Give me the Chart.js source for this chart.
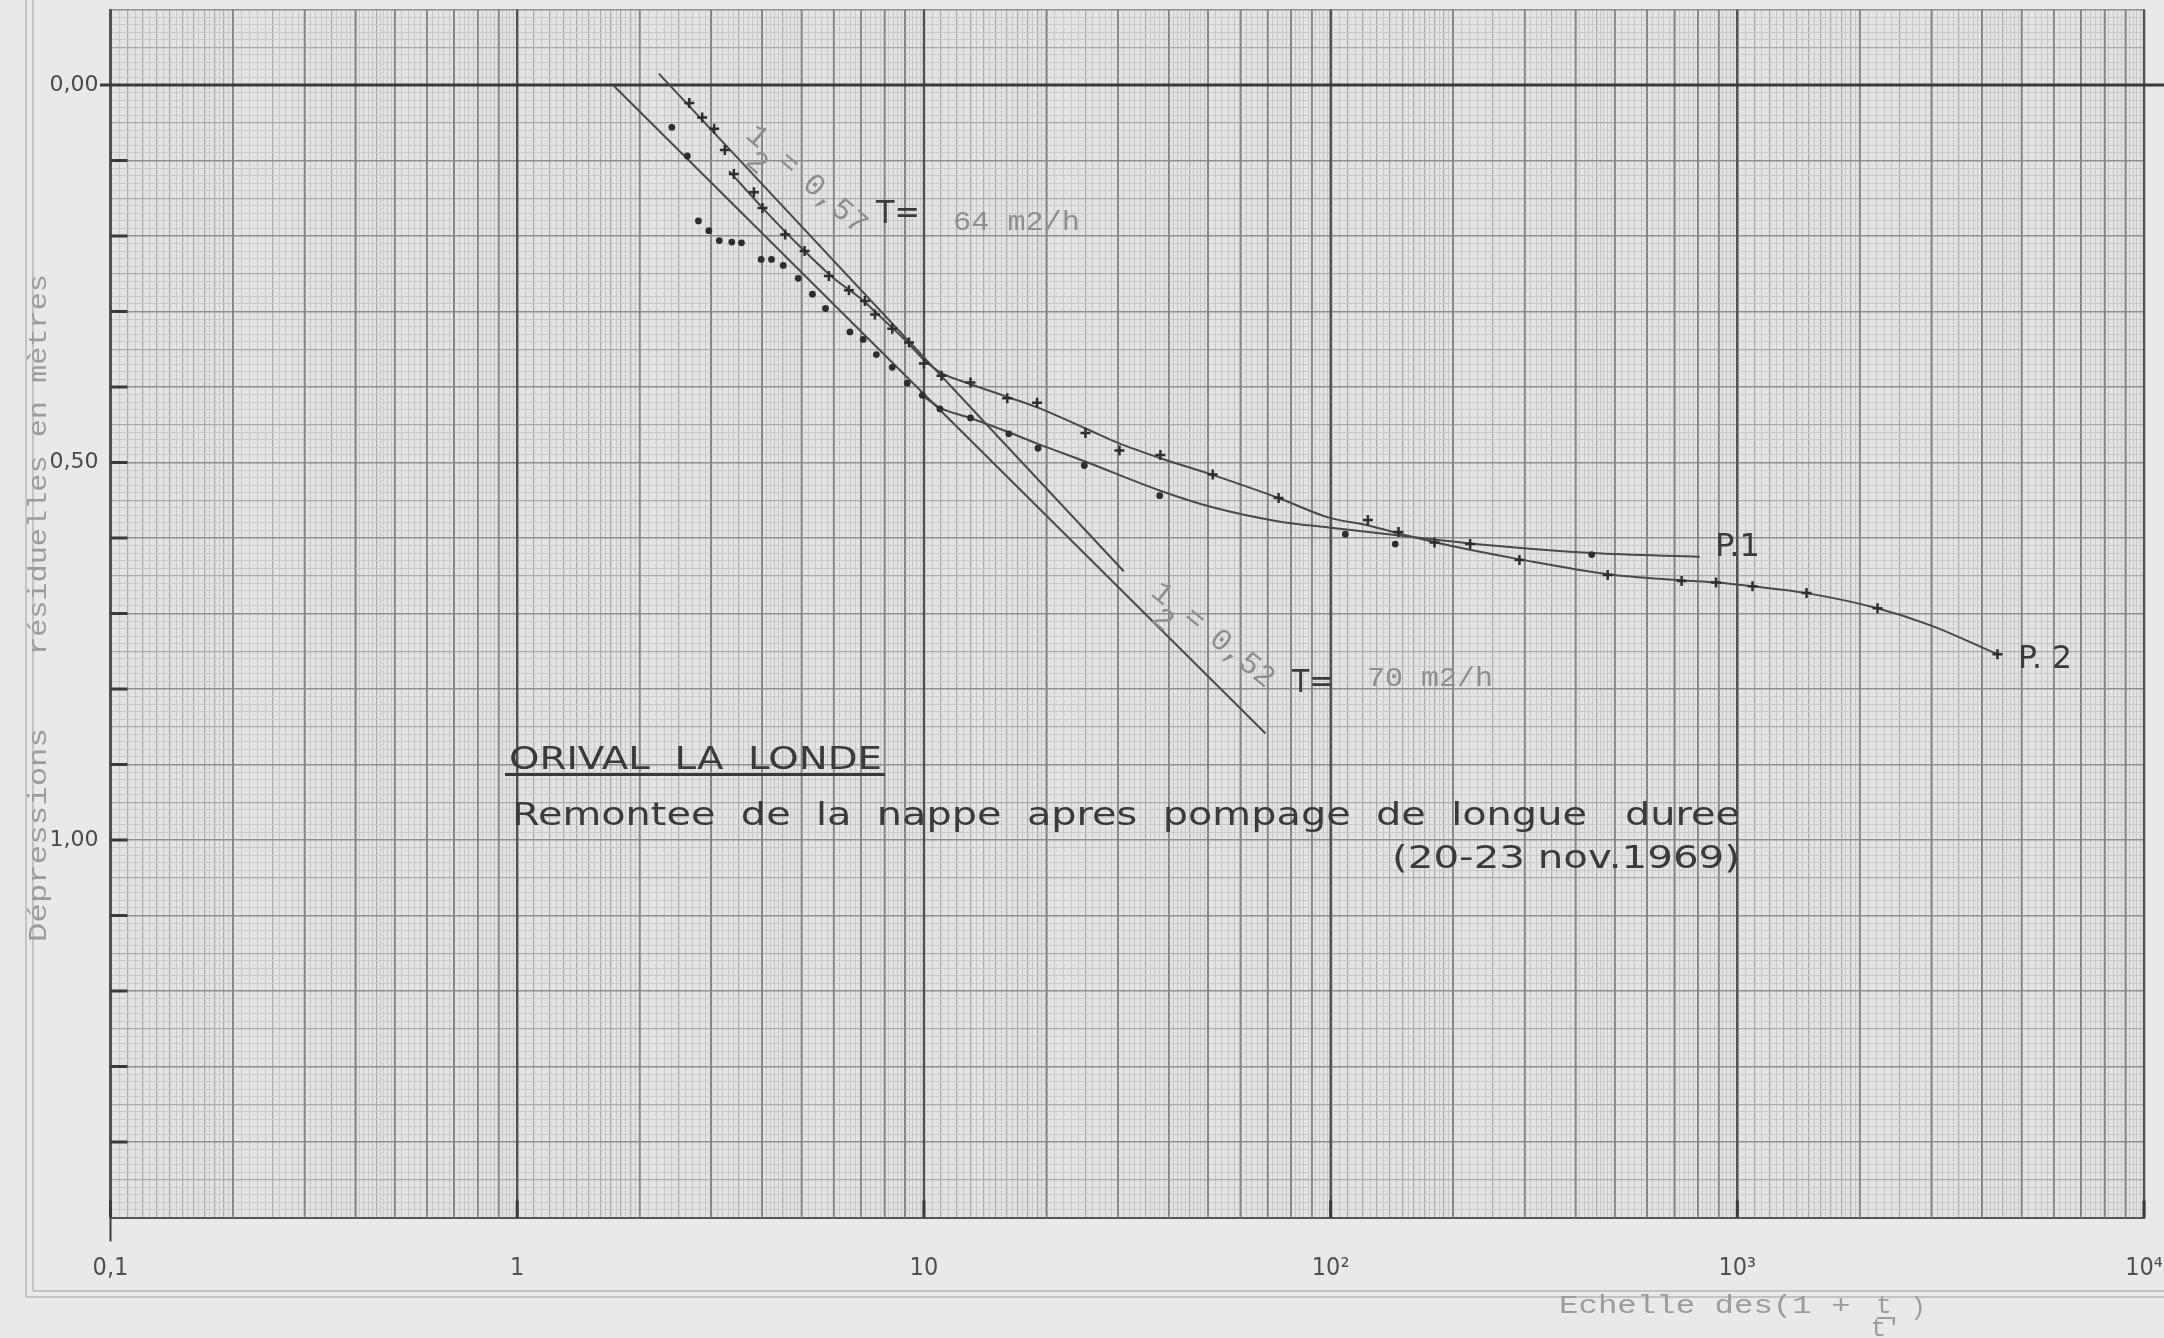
<!DOCTYPE html>
<html>
<head>
<meta charset="utf-8">
<script src="https://cdn.jsdelivr.net/npm/chart.js@4.4.1/dist/chart.umd.min.js"></script>
<style>
  html, body { margin: 0; padding: 0; background: #e9e9e9; }
  canvas { display: block; }
</style>
</head>
<body>
<canvas id="graph" width="2164" height="1338"></canvas>
<script>
// P.1 - dots
const p1X = [2.40, 2.62, 2.79, 2.96, 3.14, 3.37, 3.56, 3.98, 4.22, 4.51, 4.91, 5.32, 5.73, 6.58, 7.09, 7.64, 8.36, 9.10, 9.91, 10.95, 13.02, 16.17, 19.08, 24.8, 38.0, 108.7, 144.2, 438.5];
const p1Y = [0.056, 0.094, 0.180, 0.193, 0.206, 0.208, 0.209, 0.231, 0.231, 0.239, 0.256, 0.277, 0.296, 0.327, 0.337, 0.357, 0.374, 0.395, 0.411, 0.429, 0.441, 0.462, 0.481, 0.504, 0.544, 0.595, 0.608, 0.622];

// P.2 - crosses
const p2X = [2.65, 2.85, 3.05, 3.24, 3.41, 3.82, 4.01, 4.56, 5.09, 5.84, 6.54, 7.16, 7.58, 8.36, 9.19, 10.0, 11.05, 13.02, 16.03, 18.98, 24.96, 30.26, 38.15, 51.3, 74.5, 123.5, 146.9, 180.1, 220.3, 291.3, 480.1, 729.6, 886.6, 1090, 1480, 2212, 4362];
const p2Y = [0.024, 0.043, 0.058, 0.086, 0.118, 0.142, 0.163, 0.198, 0.220, 0.253, 0.272, 0.286, 0.304, 0.323, 0.341, 0.369, 0.385, 0.394, 0.415, 0.421, 0.461, 0.484, 0.490, 0.516, 0.547, 0.576, 0.592, 0.606, 0.608, 0.629, 0.649, 0.657, 0.659, 0.664, 0.673, 0.693, 0.754];

// straight lines (0,52 and 0,57)
const lineAX = [1.72, 69.2];
const lineAY = [0.0, 0.859];
const lineBX = [2.23, 31.0];
const lineBY = [-0.015, 0.644];

// drawn curves
const curve1X = [9.9, 11.0, 13.0, 16.0, 19.0, 25.0, 38.0, 51.0, 74.5, 99, 155, 250, 440, 809];
const curve1Y = [0.411, 0.428, 0.441, 0.459, 0.475, 0.499, 0.537, 0.559, 0.578, 0.586, 0.598, 0.610, 0.620, 0.625];
const curve2X = [3.32, 4.0, 5.0, 6.0, 7.0, 8.0, 9.0, 10.0, 11.0, 13.0, 16.0, 19.0, 25.0, 30.0, 38.0, 51.0, 74.5, 99, 123, 155, 200, 290, 480, 730, 890, 1090, 1480, 2210, 3000, 4360];
const curve2Y = [0.114, 0.162, 0.216, 0.256, 0.283, 0.312, 0.338, 0.364, 0.381, 0.396, 0.413, 0.427, 0.455, 0.474, 0.494, 0.516, 0.547, 0.573, 0.583, 0.597, 0.611, 0.628, 0.648, 0.656, 0.659, 0.664, 0.673, 0.693, 0.716, 0.754];

const xTickValues = [0.1, 1, 10, 100, 1000, 10000];
const xTickLabels = ['0,1', '1', '10', '10²', '10³', '10⁴'];
const yTickValues = [0, 0.5, 1.0];
const yTickLabels = ['0,00', '0,50', '1,00'];

const pts = (xs, ys) => xs.map((x, i) => ({ x: x, y: ys[i] }));

const INK = '#3a3a3a';
const TYPE = '#8e8e8e';

function fitText(ctx, str, x, y, w, font, color) {
  ctx.save();
  ctx.font = font;
  ctx.fillStyle = color;
  ctx.textAlign = 'left';
  ctx.textBaseline = 'alphabetic';
  const m = ctx.measureText(str).width;
  ctx.translate(x, y);
  ctx.scale(w / m, 1);
  ctx.fillText(str, 0, 0);
  ctx.restore();
}

function slopeLabel(ctx, cx, cy, deg, tail) {
  ctx.save();
  ctx.translate(cx, cy);
  ctx.rotate(deg * Math.PI / 180);
  ctx.font = '31px "Liberation Mono"';
  ctx.fillStyle = TYPE;
  ctx.textAlign = 'center';
  ctx.textBaseline = 'middle';
  ctx.fillText('1', 0, 0);
  ctx.fillText('2', 17, 20);
  ctx.fillText('=', 41, 0);
  ctx.fillText(tail, 103, 0);
  ctx.restore();
}

// x grid: log paper subdivisions
function buildLogTicks() {
  const t = [];
  for (let e = -1; e <= 3; e++) {
    const b = Math.pow(10, e);
    for (let i = 0; i < 20; i++) t.push({ value: +((1 + i * 0.05) * b).toPrecision(6), kind: i === 0 ? 'decade' : (i % 2 === 0 ? 'mid' : 'fine') });
    for (let i = 0; i < 30; i++) t.push({ value: +((2 + i * 0.1) * b).toPrecision(6), kind: i % 10 === 0 ? 'int' : (i % 5 === 0 ? 'mid' : 'fine') });
    for (let i = 0; i < 25; i++) t.push({ value: +((5 + i * 0.2) * b).toPrecision(6), kind: i % 5 === 0 ? 'int' : 'fine' });
  }
  t.push({ value: 10000, kind: 'decade' });
  return t;
}

const xColor = { decade: '#505050', int: '#858585', mid: '#ababab', fine: '#c9c9c9' };
const xWidth = { decade: 2.2, int: 1.6, mid: 1.2, fine: 1 };

function yKind(v) {
  const k = Math.round(v * 100);
  if (k % 10 === 0) return 'int';
  if (k % 5 === 0) return 'mid';
  return 'fine';
}

function noPad(s) {
  s.paddingLeft = 0; s.paddingRight = 0; s.paddingTop = 0; s.paddingBottom = 0;
}

const paper = {
  id: 'paper',
  beforeDraw(chart) {
    const { ctx, width, height, chartArea: a } = chart;
    ctx.save();
    ctx.fillStyle = '#e9e9e9';
    ctx.fillRect(0, 0, width, height);
    ctx.fillStyle = '#e3e3e3';
    ctx.fillRect(a.left, a.top, a.right - a.left, a.bottom - a.top);
    ctx.strokeStyle = '#b6b6b6';
    ctx.lineWidth = 1.5;
    ctx.beginPath();
    ctx.moveTo(26, 0); ctx.lineTo(26, 1297);
    ctx.moveTo(33, 0); ctx.lineTo(33, 1291);
    ctx.moveTo(26, 1297); ctx.lineTo(width, 1297);
    ctx.moveTo(33, 1291); ctx.lineTo(width, 1291);
    ctx.stroke();
    ctx.restore();
  },
  beforeDatasetsDraw(chart) {
    const { ctx, width, chartArea: a } = chart;
    const xs = chart.scales.x, ys = chart.scales.y;
    ctx.save();
    // heavy vertical lines of the log paper kept solid over the fine rulings
    xs.ticks.forEach(t => {
      if (t.kind !== 'decade' && t.kind !== 'int') return;
      const x = xs.getPixelForValue(t.value);
      ctx.strokeStyle = xColor[t.kind];
      ctx.lineWidth = xWidth[t.kind];
      ctx.beginPath();
      ctx.moveTo(x, a.top); ctx.lineTo(x, a.bottom);
      ctx.stroke();
    });
    ctx.strokeStyle = INK;
    ctx.lineWidth = 3;
    ctx.beginPath();
    const y0 = ys.getPixelForValue(0);
    ctx.moveTo(100, y0); ctx.lineTo(width, y0);
    ctx.stroke();
    ctx.lineWidth = 3;
    ctx.beginPath();
    for (let k = 1; k <= 14; k++) {
      const y = ys.getPixelForValue(k / 10);
      ctx.moveTo(a.left, y); ctx.lineTo(a.left + 17, y);
    }
    xTickValues.forEach(v => {
      const x = xs.getPixelForValue(v);
      ctx.moveTo(x, a.bottom - 17); ctx.lineTo(x, a.bottom);
    });
    ctx.stroke();
    ctx.lineWidth = 2;
    ctx.beginPath();
    ctx.moveTo(a.left, a.bottom); ctx.lineTo(a.left, a.bottom + 24);
    ctx.stroke();
    ctx.restore();
  },
  afterDraw(chart) {
    const ctx = chart.ctx;
    const LET = '32px "DejaVu Sans"';
    const MONO = '27px "Liberation Mono"';

    fitText(ctx, 'ORIVAL  LA  LONDE', 509, 769, 373, LET, INK);
    ctx.save(); ctx.fillStyle = INK; ctx.fillRect(505, 773, 380, 3); ctx.restore();
    fitText(ctx, 'Remontee  de  la  nappe  apres  pompage  de  longue   duree', 512, 825, 1228, LET, INK);
    fitText(ctx, '(20-23 nov.1969)', 1392, 868, 348, LET, INK);

    slopeLabel(ctx, 757, 137, 41, '0,57');
    fitText(ctx, 'T=', 876, 223, 44, LET, INK);
    fitText(ctx, '64 m2/h', 953, 230, 127, MONO, TYPE);

    slopeLabel(ctx, 1162, 594, 39, '0,52');
    fitText(ctx, 'T=', 1292, 692, 41, LET, INK);
    fitText(ctx, '70 m2/h', 1367, 686, 126, MONO, TYPE);

    fitText(ctx, 'P.1', 1715, 556, 45, LET, INK);
    fitText(ctx, 'P. 2', 2018, 668, 54, LET, INK);

    // y title
    ctx.save();
    ctx.translate(46, 942);
    ctx.rotate(-Math.PI / 2);
    fitText(ctx, 'Dépressions', 0, 0, 214, '26px "Liberation Mono"', '#9c9c9c');
    fitText(ctx, 'résiduelles en mètres', 287, 0, 381, '26px "Liberation Mono"', '#9c9c9c');
    ctx.restore();

    // x title
    fitText(ctx, 'Echelle des(1 + ', 1559, 1313, 311, '26px "Liberation Mono"', '#9c9c9c');
    ctx.save();
    ctx.font = '26px "Liberation Mono"';
    ctx.fillStyle = '#9c9c9c';
    ctx.textAlign = 'center';
    ctx.fillText('t', 1884, 1313);
    ctx.fillText("t'", 1886, 1336);
    ctx.fillText(')', 1918, 1315);
    ctx.fillRect(1877, 1317, 15, 2);
    ctx.restore();
  }
};

new Chart(document.getElementById('graph'), {
  type: 'scatter',
  data: {
    datasets: [
      { label: 'P.2', data: pts(p2X, p2Y), pointStyle: 'cross', pointRadius: 5, pointBorderWidth: 2.5, borderColor: '#2e2e2e', showLine: false },
      { label: 'P.1', data: pts(p1X, p1Y), pointStyle: 'circle', pointRadius: 3.4, pointBorderWidth: 0, backgroundColor: '#2e2e2e', borderColor: '#2e2e2e', showLine: false },
      { label: 'courbe P.2', data: pts(curve2X, curve2Y), showLine: true, pointRadius: 0, borderColor: '#4a4a4a', borderWidth: 2, cubicInterpolationMode: 'monotone' },
      { label: 'courbe P.1', data: pts(curve1X, curve1Y), showLine: true, pointRadius: 0, borderColor: '#4a4a4a', borderWidth: 2, cubicInterpolationMode: 'monotone' },
      { label: 'droite 0,57', data: pts(lineBX, lineBY), showLine: true, pointRadius: 0, borderColor: '#4a4a4a', borderWidth: 2 },
      { label: 'droite 0,52', data: pts(lineAX, lineAY), showLine: true, pointRadius: 0, borderColor: '#4a4a4a', borderWidth: 2 }
    ]
  },
  options: {
    responsive: false,
    animation: false,
    devicePixelRatio: 1,
    layout: { padding: { top: 9.5, right: 20, left: 0, bottom: 0 } },
    plugins: { legend: { display: false }, tooltip: { enabled: false } },
    scales: {
      x: {
        type: 'logarithmic',
        min: 0.1,
        max: 10000,
        afterBuildTicks: (s) => { s.ticks = buildLogTicks(); },
        afterFit: (s) => { s.height = 120.5; noPad(s); },
        border: { display: true, color: '#555555', width: 2 },
        grid: {
          drawTicks: false,
          color: (c) => c.tick ? xColor[c.tick.kind] || '#c9c9c9' : '#c9c9c9',
          lineWidth: (c) => c.tick ? xWidth[c.tick.kind] || 1 : 1
        },
        ticks: {
          autoSkip: false,
          maxRotation: 0,
          padding: 36,
          color: '#505050',
          font: { family: '"Liberation Sans Narrow", "DejaVu Sans Condensed", "DejaVu Sans"', size: 25 },
          callback: (v) => {
            const i = xTickValues.findIndex(t => Math.abs(t - v) / t < 1e-6);
            return i >= 0 ? xTickLabels[i] : '';
          }
        }
      },
      y: {
        type: 'linear',
        reverse: true,
        min: -0.1,
        max: 1.5,
        afterBuildTicks: (s) => {
          const t = [];
          for (let k = -10; k <= 150; k++) t.push({ value: k / 100 });
          s.ticks = t;
        },
        afterFit: (s) => { s.width = 110.5; noPad(s); },
        border: { display: true, color: '#555555', width: 2 },
        grid: {
          drawTicks: false,
          color: (c) => {
            if (!c.tick) return '#c9c9c9';
            const k = yKind(c.tick.value);
            return k === 'int' ? '#8f8f8f' : (k === 'mid' ? '#ababab' : '#c9c9c9');
          },
          lineWidth: (c) => {
            if (!c.tick) return 1;
            const k = yKind(c.tick.value);
            return k === 'int' ? 1.6 : (k === 'mid' ? 1.2 : 1);
          }
        },
        ticks: {
          autoSkip: false,
          padding: 12,
          color: '#4a4a4a',
          font: { family: '"DejaVu Sans"', size: 22 },
          callback: (v) => {
            const i = yTickValues.findIndex(t => Math.abs(t - v) < 1e-9);
            return i >= 0 ? yTickLabels[i] : '';
          }
        }
      }
    }
  },
  plugins: [paper]
});
</script>
</body>
</html>
